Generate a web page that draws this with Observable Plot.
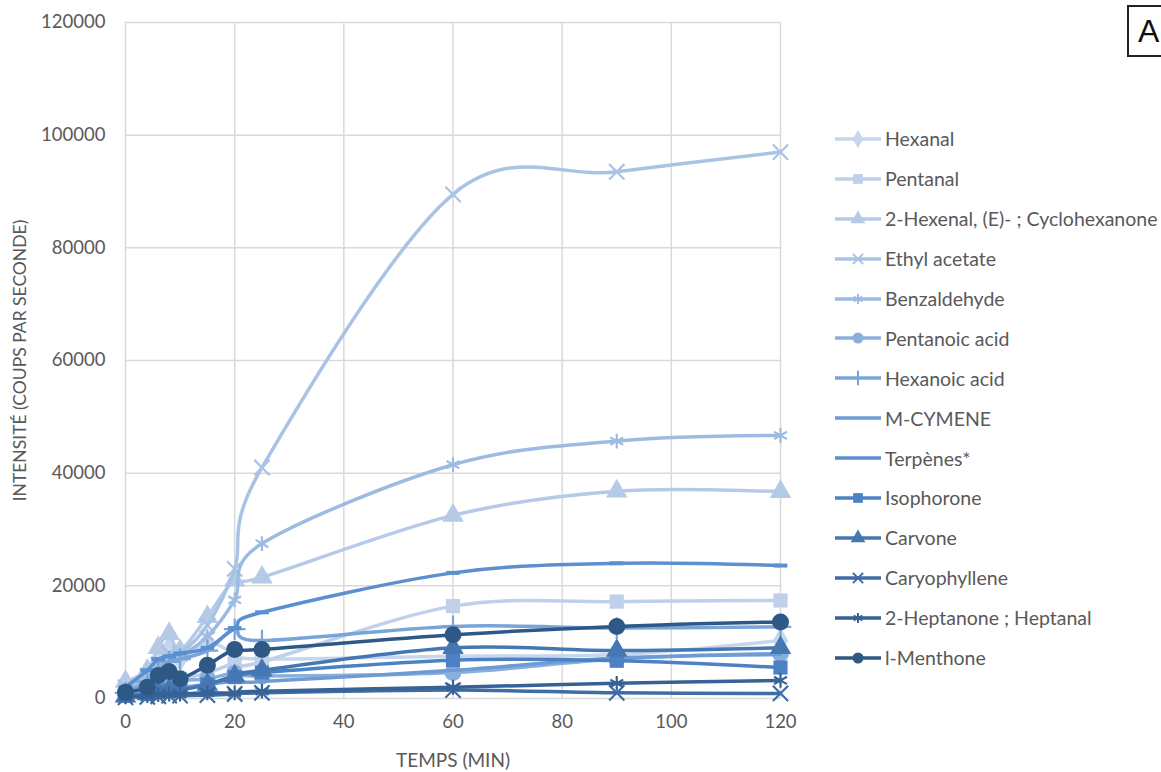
<!DOCTYPE html>
<html>
<head>
<meta charset="utf-8">
<script src="https://cdn.jsdelivr.net/npm/d3@7"></script>
<script src="https://cdn.jsdelivr.net/npm/@observablehq/plot@0.6"></script>
<style>
  html, body { margin: 0; padding: 0; background: #fff; }
  #wrap { position: relative; width: 1161px; height: 772px; overflow: hidden; font-family: Lato, "Open Sans", sans-serif; }
  #legend { position: absolute; left: 833px; top: 119px; }
  .row { display: flex; align-items: center; height: 39.9px; font-size: 19.5px; color: #595959; white-space: nowrap; }
  .row svg { flex: none; margin-right: 2px; }
  #tag { position: absolute; left: 1127px; top: 5px; width: 60px; height: 52px; border: 2px solid #222; box-sizing: border-box; font-family: "Liberation Sans", Arial, sans-serif; font-size: 32px; color: #111; padding-left: 9px; line-height: 49px; }
</style>
</head>
<body>
<div id="wrap">
  <div id="chart"></div>
  <div id="legend"></div>
  <div id="tag">A</div>
</div>
<script>
// Time points (min)
const times = [0, 4, 6, 8, 10, 15, 20, 25, 60, 90, 120];

// Series values (counts per second)
const hexanal        = [2000, 3500, 7000, 9000, 7000, 10000, 8000, 7000, 7500, 7800, 10300];
const pentanal       = [500, 1500, 2500, 3000, 3500, 4500, 6200, 6500, 16400, 17200, 17400];
const hexenal2       = [3000, 5000, 9000, 11500, 8500, 14500, 21000, 21500, 32500, 36800, 36700];
const ethylAcetate   = [2000, 4000, 6000, 8000, 8000, 13000, 23000, 41000, 89500, 93500, 97000];
const benzaldehyde   = [1500, 3500, 5500, 7000, 7500, 11000, 17500, 27500, 41500, 45700, 46700];
const pentanoicAcid  = [800, 1500, 2500, 3000, 3200, 3500, 4500, 4000, 4600, 7000, 8000];
const hexanoicAcid   = [1000, 3000, 5000, 6500, 7000, 8500, 12300, 10300, 12800, 12500, 12700];
const mCymene        = [600, 1000, 1500, 2000, 2000, 2500, 3000, 3000, 5000, 7200, 7800];
const terpenes       = [2000, 5000, 7000, 7500, 8000, 9000, 12500, 15300, 22300, 24000, 23600];
const isophorone     = [500, 800, 1200, 1500, 1500, 2500, 3800, 4600, 6800, 6700, 5500];
const carvone        = [400, 800, 1200, 1500, 1500, 2500, 4000, 5000, 9000, 8500, 9000];
const caryophyllene  = [200, 300, 400, 500, 500, 600, 800, 1000, 1500, 1000, 900];
const heptanone      = [300, 500, 700, 800, 800, 1000, 1000, 1300, 2000, 2700, 3200];
const menthone       = [1100, 2000, 4100, 4800, 3500, 5900, 8700, 8700, 11300, 12800, 13600];

const names = ["Hexanal", "Pentanal", "2-Hexenal, (E)- ; Cyclohexanone", "Ethyl acetate", "Benzaldehyde",
  "Pentanoic acid", "Hexanoic acid", "M-CYMENE", "Terpènes*", "Isophorone", "Carvone",
  "Caryophyllene", "2-Heptanone ; Heptanal", "l-Menthone"];
const seriesValues = [hexanal, pentanal, hexenal2, ethylAcetate, benzaldehyde, pentanoicAcid, hexanoicAcid,
  mCymene, terpenes, isophorone, carvone, caryophyllene, heptanone, menthone];
const colors = ["#c6d6ec", "#bed0ea", "#b4cae7", "#a9c3e4", "#9dbbe1", "#8aafdd", "#79a4d8",
  "#6d9bd4", "#5b8fcf", "#4c82c3", "#4577b3", "#3e6ca4", "#376295", "#2e5885"];
const symbols = ["diamond", "square", "triangle", "times", "asterisk", "circle", "plus",
  null, "dash", "square", "triangle", "times", "asterisk", "circle"];

const yTicks = [0, 20000, 40000, 60000, 80000, 100000, 120000];
const xTicks = [0, 20, 40, 60, 80, 100, 120];

const dash = { draw(ctx, size) { const w = Math.sqrt(size) * 0.55; ctx.moveTo(-w, 0); ctx.lineTo(w, 0); } };
const isStroked = s => s === "times" || s === "asterisk" || s === "plus" || s === "dash";

const rows = [];
names.forEach((name, i) => seriesValues[i].forEach((v, j) => rows.push({ name, i, t: times[j], v })));

const marks = [
  Plot.gridX(xTicks, { stroke: "#d9d9d9", strokeOpacity: 1, strokeWidth: 1.5 }),
  Plot.gridY(yTicks, { stroke: "#d9d9d9", strokeOpacity: 1, strokeWidth: 1.5 }),
];
names.forEach((name, i) => {
  const data = rows.filter(d => d.i === i);
  marks.push(Plot.line(data, { x: "t", y: "v", stroke: colors[i], strokeWidth: 3.5, curve: "cardinal" }));
  const s = symbols[i];
  if (s) {
    const sym = s === "dash" ? dash : s;
    if (isStroked(s)) {
      marks.push(Plot.dot(data, { x: "t", y: "v", symbol: () => sym, stroke: colors[i], strokeWidth: s === "dash" ? 4 : 2.2, fill: "none", r: 7 }));
    } else {
      marks.push(Plot.dot(data, { x: "t", y: "v", symbol: () => sym, fill: colors[i], stroke: "none", r: s === "circle" ? 8.5 : 8 }));
    }
  }
});

const chart = Plot.plot({
  width: 1161,
  height: 772,
  marginLeft: 125,
  marginRight: 381,
  marginTop: 22,
  marginBottom: 74,
  style: { fontFamily: "Lato, 'Open Sans', sans-serif", fontSize: "18.5px", color: "#595959", background: "#fff" },
  symbol: { type: "identity" },
  x: { domain: [0, 120], ticks: xTicks, tickSize: 0, tickPadding: 16, label: "TEMPS (MIN)", labelAnchor: "center", labelArrow: "none", labelOffset: 68 },
  y: { domain: [0, 120000], ticks: yTicks, tickSize: 0, tickPadding: 20, tickFormat: d3.format("d"), label: "INTENSITÉ (COUPS PAR SECONDE)", labelAnchor: "center", labelArrow: "none", labelOffset: 112 },
  marks
});
document.getElementById("chart").appendChild(chart);
// axis title sizes
chart.querySelectorAll("[aria-label='x-axis label'] text, [aria-label='x-axis label']").forEach(el => el.style.fontSize = "19px");
chart.querySelectorAll("[aria-label='y-axis label'] text, [aria-label='y-axis label']").forEach(el => el.style.fontSize = "17.5px");

// Legend
const legend = document.getElementById("legend");
const symbolPath = (s, size) => {
  const sym = ({ diamond: d3.symbolDiamond, square: d3.symbolSquare, triangle: d3.symbolTriangle, times: d3.symbolTimes, asterisk: d3.symbolAsterisk, circle: d3.symbolCircle, plus: d3.symbolPlus })[s];
  return d3.symbol(sym, size)();
};
names.forEach((name, i) => {
  const row = document.createElement("div");
  row.className = "row";
  const ns = "http://www.w3.org/2000/svg";
  const svg = document.createElementNS(ns, "svg");
  svg.setAttribute("width", 50); svg.setAttribute("height", 20);
  const line = document.createElementNS(ns, "line");
  line.setAttribute("x1", 2); line.setAttribute("x2", 48); line.setAttribute("y1", 10); line.setAttribute("y2", 10);
  line.setAttribute("stroke", colors[i]); line.setAttribute("stroke-width", 3.5);
  svg.appendChild(line);
  const s = symbols[i];
  if (s && s !== "dash") {
    const p = document.createElementNS(ns, "path");
    p.setAttribute("d", symbolPath(s, isStroked(s) ? 70 : 95));
    p.setAttribute("transform", "translate(25,10)");
    if (isStroked(s)) { p.setAttribute("fill", "none"); p.setAttribute("stroke", colors[i]); p.setAttribute("stroke-width", 2); }
    else p.setAttribute("fill", colors[i]);
    svg.appendChild(p);
  }
  row.appendChild(svg);
  const label = document.createElement("span");
  label.textContent = name;
  row.appendChild(label);
  legend.appendChild(row);
});
</script>
</body>
</html>
